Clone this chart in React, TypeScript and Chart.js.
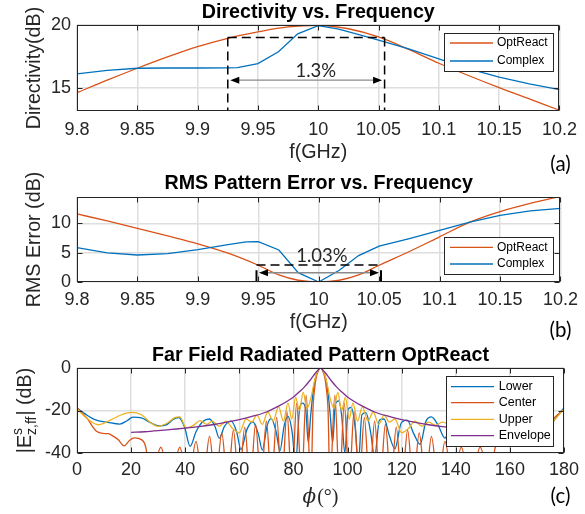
import React, { useEffect, useRef } from 'react';
import { Chart, registerables } from 'chart.js';

Chart.register(...registerables);

const SANS = '"Liberation Sans", Arial, Helvetica, sans-serif';
const NOTE = 'Lato, "Open Sans", sans-serif';
const INK = '#262626';
const GRID = '#dedede';
const BLUE = '#0072BD';
const ORANGE = '#D95319';
const YELLOW = '#EDB120';
const PURPLE = '#7E2F8E';

// ---------- (a) Directivity vs. Frequency ----------
const freqTicks = [9.8, 9.85, 9.9, 9.95, 10, 10.05, 10.1, 10.15, 10.2];
const directivityTicks = [15, 20];
const dirOptReactFreq = [9.8, 9.825, 9.85, 9.875, 9.9, 9.925, 9.95, 9.975, 10.0, 10.025, 10.05, 10.075, 10.1, 10.125, 10.15, 10.175, 10.2];
const dirOptReactDb = [14.6, 15.6, 16.55, 17.45, 18.27, 18.94, 19.45, 19.85, 19.98, 19.7, 19.05, 18.05, 16.95, 15.95, 15.0, 14.1, 13.2];
const dirComplexFreq = [9.8, 9.825, 9.85, 9.875, 9.9, 9.925, 9.933, 9.95, 9.967, 9.983, 10.0, 10.017, 10.033, 10.05, 10.075, 10.1, 10.125, 10.15, 10.175, 10.2];
const dirComplexDb = [16.1, 16.38, 16.55, 16.57, 16.57, 16.58, 16.6, 16.92, 17.87, 19.3, 19.95, 19.68, 19.25, 18.8, 18.1, 17.3, 16.5, 15.85, 15.3, 14.85];
const dirBandEdges = [9.925, 10.055];
const dirBandLevel = 19;
const dirArrowLevel = 15.6;
const dirBandText = '1.3%';
const dirBandTextAt = [9.998, 16.33];

// ---------- (b) RMS Pattern Error vs. Frequency ----------
const rmsTicks = [0, 5, 10];
const rmsOptReactFreq = [9.8, 9.825, 9.85, 9.875, 9.9, 9.925, 9.95, 9.967, 9.983, 10.0, 10.017, 10.033, 10.05, 10.075, 10.1, 10.125, 10.15, 10.175, 10.2];
const rmsOptReactDb = [11.6, 10.4, 9.15, 7.85, 6.5, 4.9, 2.85, 1.2, 0.3, 0.0, 0.3, 1.2, 2.85, 5.2, 7.7, 10.2, 12.0, 13.4, 14.6];
const rmsComplexFreq = [9.8, 9.825, 9.85, 9.875, 9.9, 9.925, 9.94, 9.95, 9.967, 9.983, 10.0, 10.017, 10.033, 10.05, 10.075, 10.1, 10.125, 10.15, 10.175, 10.2];
const rmsComplexDb = [5.85, 4.95, 4.6, 4.85, 5.5, 6.35, 6.85, 6.87, 5.45, 1.6, 0.0, 2.0, 4.5, 6.1, 7.4, 8.8, 10.2, 11.35, 12.1, 12.55];
const rmsBandEdges = [9.9485, 10.0515];
const rmsBandLevel = 2.9;
const rmsArrowLevel = 1.58;
const rmsBarTop = 2.0;
const rmsBandText = '1.03%';
const rmsBandTextAt = [10.0026, 4.5];

// ---------- (c) Far Field Radiated Pattern OptReact ----------
const phiTicks = [0, 20, 40, 60, 80, 100, 120, 140, 160, 180];
const patternTicks = [-40, -20, 0];
const lowerPhi = [0, 3, 6.6, 11.5, 15.8, 18.5, 20.7, 23.8, 27, 30.5, 33, 35.5, 37.6, 39.8, 41.8, 44, 46.5, 49, 51, 52.6, 54.5, 57, 59, 60.6, 62.8, 65, 67, 68.5, 70.3, 71.8, 73.6, 75, 76.6, 78, 79.5, 80.8, 82.2, 83.3, 84.5, 85.5, 86.4, 87.2, 88, 89, 90, 91, 92, 92.8, 93.6, 94.5, 95.5, 96.7, 97.8, 99, 100.2, 101.4, 102.8, 104, 105.3, 106.8, 108.5, 110, 111.8, 113.5, 115.5, 117.5, 119.8, 122, 124.5, 126.8, 129, 131, 133.5, 136, 138, 142, 146, 150, 155, 160, 165, 170, 174.5, 177, 180];
const lowerDb = [-18.8, -21.6, -24.3, -25.6, -26.4, -24.8, -23.1, -23.5, -25.6, -27.2, -26.8, -24.2, -23.3, -28, -36.9, -30, -25.2, -24, -27.5, -33, -27.5, -25, -30, -38.4, -29, -25.3, -31, -38.6, -27, -23.8, -30, -39, -27, -22.8, -30, -45, -20, -16.5, -19, -35, -22, -12, -5.5, -1.5, 0, -1.5, -5.5, -12, -22, -35, -17, -15.5, -22, -40, -19.5, -18.5, -28, -45, -22, -21, -30, -42, -24.5, -24, -32, -38, -26, -24.5, -31, -36, -25, -23, -27, -33, -29, -33, -27, -30, -33, -31, -34, -32, -28, -23.5, -18.8];
const centerPhi = [0, 3.6, 7.2, 9.5, 11.5, 13.5, 15.2, 17.4, 19.5, 21.3, 23.8, 25.6, 27, 31, 34.5, 38, 41, 44, 46.5, 49, 51.2, 53.5, 55.7, 57.8, 59.9, 62, 64, 66, 68, 70, 71.9, 73.8, 75.7, 77.6, 79.4, 81.2, 83, 84.7, 86.5, 87.2, 87.8, 88.4, 89.2, 90, 90.8, 91.6, 92.2, 92.8, 93.5, 95.3, 97, 98.8, 100.6, 102.4, 104.3, 106.2, 108.1, 110, 112, 114, 116, 118, 120.1, 122.2, 124.3, 126.5, 128.8, 131, 133.5, 136, 139, 142, 145.5, 149, 153, 154.4, 156.2, 158.7, 160.5, 162.6, 164.8, 166.5, 168.5, 170.5, 172.8, 176.4, 180];
const centerDb = [-18.8, -23.5, -29.8, -30.8, -30.9, -32.2, -33.7, -36.6, -34, -32.9, -33.7, -38.4, -55, -37.3, -55, -37.3, -55, -34.5, -55, -32.2, -55, -30.5, -55, -29.2, -55, -27.8, -55, -26.4, -55, -25, -55, -23.2, -55, -20.6, -55, -16.5, -55, -12.8, -55, -20, -10, -4.5, -1.2, 0, -1.2, -4.5, -10, -20, -55, -12.8, -55, -16.5, -55, -20.6, -55, -23.2, -55, -25, -55, -26.4, -55, -27.8, -55, -29.2, -55, -30.5, -55, -32.2, -55, -34.5, -55, -37.3, -55, -37.3, -55, -38.4, -33.7, -32.9, -34, -36.6, -33.7, -32.2, -30.9, -30.8, -29.8, -23.5, -19.6];
const upperPhi = [0, 3.5, 7.9, 12.7, 16.5, 20.1, 23.8, 27, 29.9, 33.4, 36, 38, 40.4, 43, 45.5, 48, 50, 52.5, 55, 57.5, 60, 62.5, 64.5, 66.5, 68.5, 70.5, 72.5, 74.5, 76.3, 78, 79.4, 80.8, 82.2, 83.6, 85, 86.5, 87.3, 88.2, 89.1, 90, 90.9, 91.8, 92.7, 93.5, 95, 96.4, 97.8, 99.2, 100.6, 102, 103.7, 105.5, 107.5, 109.5, 111.5, 113.5, 115.5, 117.5, 120, 122.5, 125, 127.5, 130, 132.5, 135, 137.5, 140, 145, 150, 155, 160, 165, 170, 173, 176.5, 180];
const upperDb = [-19.2, -23.5, -26.7, -24.3, -22, -20.9, -22, -25.5, -27.5, -25.9, -23.5, -23, -28.2, -27, -24.8, -26.5, -25, -27.5, -25, -28.5, -30.5, -24, -25.5, -22.2, -26.5, -20.7, -25, -18.2, -25, -16.5, -24, -13.8, -20, -11.5, -19, -14, -9, -4, -1, 0, -1, -4, -9, -14, -19, -11.5, -20, -13.8, -24, -16.5, -25, -18.2, -25, -20.7, -26.5, -22.2, -25.5, -24, -30.5, -28.5, -25, -27.5, -25.5, -27, -25.5, -26.5, -28, -30, -28.5, -31, -29.5, -32, -30, -29, -24.5, -19.2];
const envelopePhi = [20, 25, 30, 35, 40, 45, 50, 55, 60, 65, 70, 75, 78, 80, 82, 84, 86, 87, 88, 89, 90, 91, 92, 93, 94, 96, 98, 100, 102, 105, 110, 115, 120, 125, 130, 135, 140, 145, 150, 155, 160];
const envelopeDb = [-30.3, -30, -29.5, -28.9, -28.3, -27.6, -26.7, -25.6, -24.3, -22.7, -20.7, -17.6, -15.4, -13.7, -11.4, -9, -6, -4.3, -2.6, -1.1, 0, -1.1, -2.6, -4.3, -6, -9, -11.4, -13.7, -15.4, -17.6, -20.7, -22.7, -24.3, -25.6, -26.7, -27.6, -28.3, -28.9, -29.5, -30, -30.3];

// ---------- layout ----------
const CW = 585;
const AREA_LEFT = 77;
const AREA_RIGHT = 566;

type Series = { label: string; color: string; xs: number[]; ys: number[]; smooth: boolean; order: number };
type Legend = { left: number; top: number; width: number; height: number; rows: number[]; fontSize: number; lineFrom: number; lineTo: number; textAt: number };
type PanelSpec = {
  top: number; height: number; areaTop: number; areaBottom: number;
  xMin: number; xMax: number; xTicks: number[]; xPad: number;
  yMin: number; yMax: number; yTicks: number[];
  series: Series[]; legend: Legend;
  title: string; titleY: number; panelLabel: string; panelLabelY: number;
  labels: (ctx: CanvasRenderingContext2D, a: any) => void;
  annotate?: (ctx: CanvasRenderingContext2D, xs: any, ys: any) => void;
};

function drawRotated(ctx: CanvasRenderingContext2D, text: string, x: number, cy: number) {
  ctx.save();
  ctx.translate(x, cy);
  ctx.rotate(-Math.PI / 2);
  ctx.font = `19.7px ${SANS}`;
  ctx.fillStyle = INK;
  ctx.textAlign = 'center';
  ctx.textBaseline = 'alphabetic';
  ctx.fillText(text, 0, 0);
  ctx.restore();
}

function drawCentered(ctx: CanvasRenderingContext2D, text: string, x: number, y: number, font: string, color: string) {
  ctx.font = font;
  ctx.fillStyle = color;
  ctx.textAlign = 'center';
  ctx.textBaseline = 'alphabetic';
  ctx.fillText(text, x, y);
}

function drawFieldLabel(ctx: CanvasRenderingContext2D, x: number, cy: number) {
  const big = `19.7px ${SANS}`;
  const small = `14px ${SANS}`;
  ctx.save();
  ctx.translate(x, cy);
  ctx.rotate(-Math.PI / 2);
  ctx.fillStyle = INK;
  ctx.textAlign = 'left';
  ctx.textBaseline = 'alphabetic';
  ctx.font = big;
  const w1 = ctx.measureText('|E').width;
  const w3 = ctx.measureText('| (dB)').width;
  ctx.font = small;
  const ws = Math.max(ctx.measureText('s').width, ctx.measureText('z,ff').width);
  let p = -(w1 + ws + 1 + w3) / 2;
  ctx.font = big;
  ctx.fillText('|E', p, 0);
  p += w1;
  ctx.font = small;
  ctx.fillText('s', p, -9);
  ctx.fillText('z,ff', p, 5);
  p += ws + 1;
  ctx.font = big;
  ctx.fillText('| (dB)', p, 0);
  ctx.restore();
}

function drawPhiLabel(ctx: CanvasRenderingContext2D, cx: number, y: number) {
  const f1 = `italic 20px "DejaVu Serif", serif`;
  const f2 = `20px "Liberation Serif", serif`;
  ctx.save();
  ctx.fillStyle = INK;
  ctx.textAlign = 'left';
  ctx.textBaseline = 'alphabetic';
  ctx.font = f1;
  const w1 = ctx.measureText('ϕ').width;
  ctx.font = f2;
  const w2 = ctx.measureText('(°)').width;
  let p = cx - (w1 + w2 + 1) / 2;
  ctx.font = f1;
  ctx.fillText('ϕ', p, y);
  p += w1 + 1;
  ctx.font = f2;
  ctx.fillText('(°)', p, y);
  ctx.restore();
}

function drawArrow(ctx: CanvasRenderingContext2D, xa: number, xb: number, y: number) {
  ctx.setLineDash([]);
  ctx.strokeStyle = '#8a8a8a';
  ctx.lineWidth = 1.4;
  ctx.beginPath();
  ctx.moveTo(xa + 4, y);
  ctx.lineTo(xb - 4, y);
  ctx.stroke();
  ctx.fillStyle = '#000';
  ctx.beginPath();
  ctx.moveTo(xa, y);
  ctx.lineTo(xa + 9, y - 3.5);
  ctx.lineTo(xa + 9, y + 3.5);
  ctx.closePath();
  ctx.moveTo(xb, y);
  ctx.lineTo(xb - 9, y - 3.5);
  ctx.lineTo(xb - 9, y + 3.5);
  ctx.closePath();
  ctx.fill();
}

function dashed(ctx: CanvasRenderingContext2D, x1: number, y1: number, x2: number, y2: number) {
  ctx.strokeStyle = '#000';
  ctx.lineWidth = 1.5;
  ctx.setLineDash([9, 5]);
  ctx.beginPath();
  ctx.moveTo(x1, y1);
  ctx.lineTo(x2, y2);
  ctx.stroke();
  ctx.setLineDash([]);
}

const panelA: PanelSpec = {
  top: 0, height: 180, areaTop: 25, areaBottom: 111,
  xMin: 9.8, xMax: 10.2, xTicks: freqTicks, xPad: 8,
  yMin: 13.14, yMax: 20, yTicks: directivityTicks,
  series: [
    { label: 'OptReact', color: ORANGE, xs: dirOptReactFreq, ys: dirOptReactDb, smooth: true, order: 1 },
    { label: 'Complex', color: BLUE, xs: dirComplexFreq, ys: dirComplexDb, smooth: false, order: 0 },
  ],
  legend: { left: 444, top: 33, width: 109, height: 38, rows: [43, 61], fontSize: 12, lineFrom: 6, lineTo: 49, textAt: 53 },
  title: 'Directivity vs. Frequency', titleY: 17.5, panelLabel: '(a)', panelLabelY: 171,
  labels: (ctx, a) => {
    drawRotated(ctx, 'Directivity(dB)', 40, (a.top + a.bottom) / 2);
    drawCentered(ctx, 'f(GHz)', (a.left + a.right) / 2, 157.6, `19.7px ${SANS}`, INK);
  },
  annotate: (ctx, xs, ys) => {
    const x1 = xs.getPixelForValue(dirBandEdges[0]);
    const x2 = xs.getPixelForValue(dirBandEdges[1]);
    const yl = ys.getPixelForValue(dirBandLevel);
    dashed(ctx, x1, yl, x2, yl);
    dashed(ctx, x1, yl, x1, ys.bottom);
    dashed(ctx, x2, yl, x2, ys.bottom);
    drawArrow(ctx, x1 + 2.5, x2 - 2.5, ys.getPixelForValue(dirArrowLevel));
    ctx.textBaseline = 'middle';
    ctx.textAlign = 'center';
    ctx.font = `18.5px ${NOTE}`;
    ctx.fillStyle = INK;
    ctx.fillText(dirBandText, xs.getPixelForValue(dirBandTextAt[0]), ys.getPixelForValue(dirBandTextAt[1]));
  },
};

const panelB: PanelSpec = {
  top: 170, height: 180, areaTop: 27, areaBottom: 112,
  xMin: 9.8, xMax: 10.2, xTicks: freqTicks, xPad: 7,
  yMin: 0, yMax: 14.48, yTicks: rmsTicks,
  series: [
    { label: 'OptReact', color: ORANGE, xs: rmsOptReactFreq, ys: rmsOptReactDb, smooth: true, order: 1 },
    { label: 'Complex', color: BLUE, xs: rmsComplexFreq, ys: rmsComplexDb, smooth: false, order: 0 },
  ],
  legend: { left: 444, top: 67, width: 109, height: 37, rows: [77.3, 94], fontSize: 12, lineFrom: 6, lineTo: 49, textAt: 53 },
  title: 'RMS Pattern Error vs. Frequency', titleY: 18.5, panelLabel: '(b)', panelLabelY: 166.5,
  labels: (ctx, a) => {
    drawRotated(ctx, 'RMS Error (dB)', 40, (a.top + a.bottom) / 2);
    drawCentered(ctx, 'f(GHz)', (a.left + a.right) / 2, 157.6, `19.7px ${SANS}`, INK);
  },
  annotate: (ctx, xs, ys) => {
    const x1 = xs.getPixelForValue(rmsBandEdges[0]);
    const x2 = xs.getPixelForValue(rmsBandEdges[1]);
    const yl = ys.getPixelForValue(rmsBandLevel);
    dashed(ctx, x1, yl, x2, yl);
    drawArrow(ctx, x1 + 2.5, x2 - 2, ys.getPixelForValue(rmsArrowLevel));
    ctx.strokeStyle = '#000';
    ctx.lineWidth = 2;
    ctx.beginPath();
    for (const xv of [x1, x2]) {
      ctx.moveTo(xv, ys.getPixelForValue(0));
      ctx.lineTo(xv, ys.getPixelForValue(rmsBarTop));
    }
    ctx.stroke();
    ctx.textBaseline = 'middle';
    ctx.textAlign = 'center';
    ctx.font = `18.5px ${NOTE}`;
    ctx.fillStyle = INK;
    ctx.fillText(rmsBandText, xs.getPixelForValue(rmsBandTextAt[0]), ys.getPixelForValue(rmsBandTextAt[1]));
  },
};

const panelC: PanelSpec = {
  top: 340, height: 174, areaTop: 28, areaBottom: 113,
  xMin: 0, xMax: 180, xTicks: phiTicks, xPad: 6,
  yMin: -40, yMax: 0, yTicks: patternTicks,
  series: [
    { label: 'Lower', color: BLUE, xs: lowerPhi, ys: lowerDb, smooth: true, order: 3 },
    { label: 'Center', color: ORANGE, xs: centerPhi, ys: centerDb, smooth: true, order: 2 },
    { label: 'Upper', color: YELLOW, xs: upperPhi, ys: upperDb, smooth: true, order: 1 },
    { label: 'Envelope', color: PURPLE, xs: envelopePhi, ys: envelopeDb, smooth: true, order: 0 },
  ],
  legend: { left: 446, top: 36, width: 107, height: 70, rows: [46.7, 62.7, 79.3, 95.7], fontSize: 12.5, lineFrom: 5, lineTo: 48, textAt: 52.7 },
  title: 'Far Field Radiated Pattern OptReact', titleY: 20.7, panelLabel: '(c)', panelLabelY: 163.3,
  labels: (ctx, a) => {
    drawFieldLabel(ctx, 31, (a.top + a.bottom) / 2);
    drawPhiLabel(ctx, (a.left + a.right) / 2, 163);
  },
};

function framePlugin(spec: PanelSpec) {
  return {
    id: 'matlabFrame',
    afterDatasetsDraw(chart: any) {
      const { ctx, chartArea: a } = chart;
      const xs = chart.scales.x;
      const ys = chart.scales.y;
      ctx.save();
      if (spec.annotate) spec.annotate(ctx, xs, ys);
      const L = Math.round(a.left) + 0.5;
      const R = Math.round(a.right) - 0.5;
      const T = Math.round(a.top) + 0.5;
      const B = Math.round(a.bottom) - 0.5;
      ctx.setLineDash([]);
      ctx.strokeStyle = INK;
      ctx.lineWidth = 1;
      ctx.strokeRect(L, T, R - L, B - T);
      ctx.beginPath();
      for (const v of spec.xTicks) {
        const p = Math.round(xs.getPixelForValue(v)) + 0.5;
        ctx.moveTo(p, B); ctx.lineTo(p, B - 5);
        ctx.moveTo(p, T); ctx.lineTo(p, T + 5);
      }
      for (const v of spec.yTicks) {
        const p = Math.round(ys.getPixelForValue(v)) + 0.5;
        ctx.moveTo(L, p); ctx.lineTo(L + 5, p);
        ctx.moveTo(R, p); ctx.lineTo(R - 5, p);
      }
      ctx.stroke();
      // legend
      const lg = spec.legend;
      ctx.fillStyle = '#fff';
      ctx.fillRect(lg.left, lg.top, lg.width, lg.height);
      ctx.strokeStyle = INK;
      ctx.lineWidth = 1;
      ctx.strokeRect(lg.left + 0.5, lg.top + 0.5, lg.width, lg.height);
      spec.series.forEach((s, i) => {
        const y = lg.rows[i];
        ctx.strokeStyle = s.color;
        ctx.lineWidth = 1.3;
        ctx.beginPath();
        ctx.moveTo(lg.left + lg.lineFrom, y);
        ctx.lineTo(lg.left + lg.lineTo, y);
        ctx.stroke();
        ctx.fillStyle = '#000';
        ctx.font = `${lg.fontSize}px ${SANS}`;
        ctx.textAlign = 'left';
        ctx.textBaseline = 'middle';
        ctx.fillText(s.label, lg.left + lg.textAt, y);
      });
      // texts
      drawCentered(ctx, spec.title, (a.left + a.right) / 2, spec.titleY, `bold 19.7px ${SANS}`, '#000');
      spec.labels(ctx, a);
      drawCentered(ctx, spec.panelLabel, 560.5, spec.panelLabelY, `20.5px ${NOTE}`, '#000');
      ctx.restore();
    },
  };
}

function PanelChart({ spec }: { spec: PanelSpec }) {
  const ref = useRef<HTMLCanvasElement>(null);
  useEffect(() => {
    const canvas = ref.current;
    if (!canvas) return;
    const tickFont = { family: SANS, size: 18 };
    const chart = new Chart(canvas, {
      type: 'line',
      data: {
        datasets: spec.series.map((s) => ({
          label: s.label,
          data: s.xs.map((x, i) => ({ x, y: s.ys[i] })),
          borderColor: s.color,
          backgroundColor: s.color,
          borderWidth: 1.3,
          pointRadius: 0,
          pointHoverRadius: 0,
          fill: false,
          tension: s.smooth ? 0.4 : 0,
          cubicInterpolationMode: s.smooth ? 'monotone' : 'default',
          capBezierPoints: false,
          order: s.order,
        })),
      },
      options: {
        responsive: false,
        maintainAspectRatio: false,
        animation: false,
        events: [],
        layout: { padding: { left: 0, right: CW - AREA_RIGHT, top: spec.areaTop, bottom: 0 } },
        plugins: { legend: { display: false }, title: { display: false }, tooltip: { enabled: false } },
        scales: {
          x: {
            type: 'linear',
            min: spec.xMin,
            max: spec.xMax,
            afterBuildTicks: (sc: any) => { sc.ticks = spec.xTicks.map((v) => ({ value: v })); },
            afterFit: (sc: any) => { sc.height = spec.height - spec.areaBottom; },
            grid: { color: GRID, lineWidth: 1.5, drawTicks: false },
            border: { display: false },
            ticks: { padding: spec.xPad, color: INK, font: tickFont, maxRotation: 0, minRotation: 0, autoSkip: false, callback: (v: any) => String(v) },
          },
          y: {
            type: 'linear',
            min: spec.yMin,
            max: spec.yMax,
            afterBuildTicks: (sc: any) => { sc.ticks = spec.yTicks.map((v) => ({ value: v })); },
            afterFit: (sc: any) => { sc.width = AREA_LEFT; },
            grid: { color: GRID, lineWidth: 1.5, drawTicks: false },
            border: { display: false },
            ticks: { padding: 6, color: INK, font: tickFont, autoSkip: false, callback: (v: any) => String(v) },
          },
        },
      } as any,
      plugins: [framePlugin(spec)],
    });
    return () => chart.destroy();
  }, [spec]);
  return (
    <canvas
      ref={ref}
      width={CW}
      height={spec.height}
      style={{ position: 'absolute', left: 0, top: spec.top, width: CW, height: spec.height, display: 'block' }}
    />
  );
}

export default function App() {
  return (
    <div style={{ position: 'absolute', left: 0, top: 0, width: CW, height: 514, background: '#fff', overflow: 'hidden' }}>
      <PanelChart spec={panelA} />
      <PanelChart spec={panelB} />
      <PanelChart spec={panelC} />
    </div>
  );
}
